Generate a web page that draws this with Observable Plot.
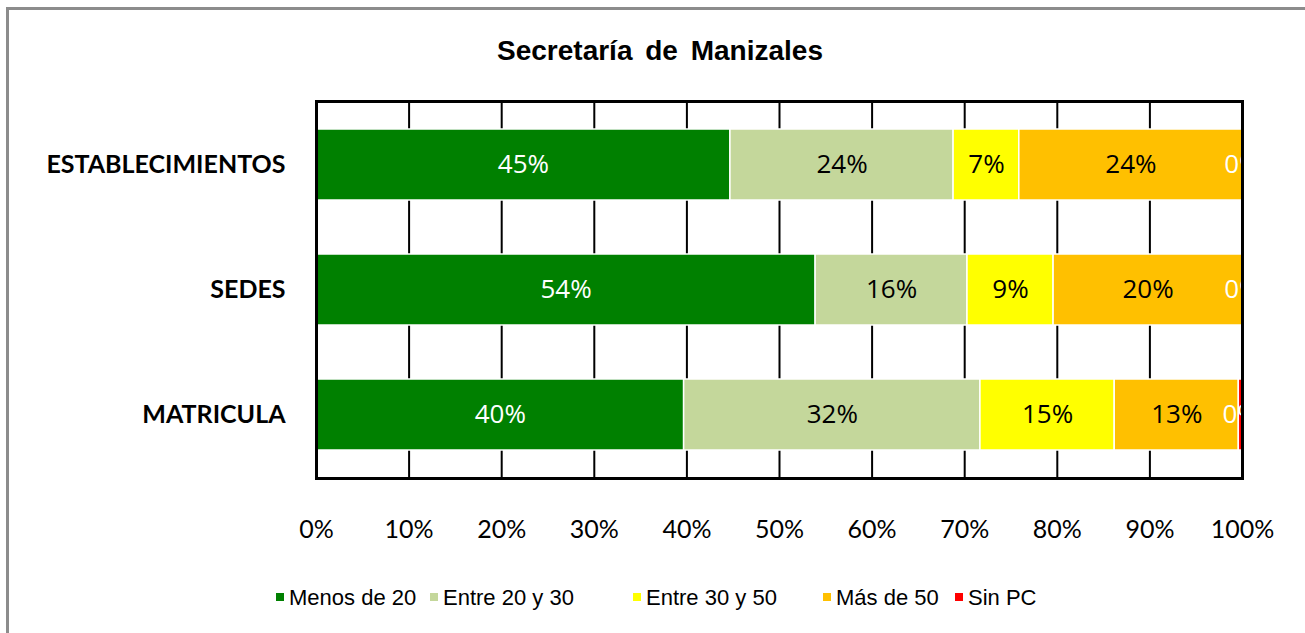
<!DOCTYPE html>
<html>
<head>
<meta charset="utf-8">
<script src="https://cdn.jsdelivr.net/npm/d3@7"></script>
<script src="https://cdn.jsdelivr.net/npm/@observablehq/plot@0.6"></script>
<style>
  body { margin: 0; background: #fff; }
  #wrap { position: relative; width: 1305px; height: 633px; overflow: hidden; background: #fff; }
  #border { position: absolute; left: 6px; top: 7px; width: 1320px; height: 660px; border: 3px solid #8c8c8c; box-sizing: border-box; }
  #title { position: relative; height: 90px; }
  #title span { position: absolute; left: 660px; top: 35px; transform: translateX(-50%); font: bold 28px "Liberation Sans", Arial, sans-serif; word-spacing: 5px; white-space: nowrap; line-height: 32px; color: #000; }
  #chart { position: relative; height: 470px; }
  #legend { position: relative; height: 73px; font: 22px "Liberation Sans", Arial, sans-serif; color: #000; }
  .item { position: absolute; top: 26px; display: flex; align-items: center; white-space: nowrap; line-height: 24px; }
  .sw { width: 8px; height: 8px; margin-right: 5px; margin-top: -3px; }
</style>
</head>
<body>
<div id="wrap">
  <div id="border"></div>
  <div id="title"><span>Secretaría de Manizales</span></div>
  <div id="chart"></div>
  <div id="legend"></div>
</div>
<script>
const categories = ["ESTABLECIMIENTOS", "SEDES", "MATRICULA"];
const series = ["Menos de 20", "Entre 20 y 30", "Entre 30 y 50", "Más de 50", "Sin PC"];
const colors = ["#008000", "#C4D79B", "#FFFF00", "#FFC000", "#FF0000"];
const valuesEstablecimientos = [44.7, 24.1, 7.1, 24.1, 0];
const valuesSedes = [53.9, 16.4, 9.3, 20.4, 0];
const valuesMatricula = [39.7, 32.0, 14.5, 13.4, 0.4];
const xTicks = [0, 10, 20, 30, 40, 50, 60, 70, 80, 90, 100];
const gridTicks = [10, 20, 30, 40, 50, 60, 70, 80, 90];
const whiteLabelSeries = ["Menos de 20", "Sin PC"];

const valueSets = [valuesEstablecimientos, valuesSedes, valuesMatricula];
const data = [];
categories.forEach((c, i) => {
  series.forEach((s, j) => data.push({cat: c, series: s, value: valueSets[i][j]}));
});
const label = d => Math.round(d.value) + "%";

const plot = Plot.plot({
  width: 1305,
  height: 470,
  marginLeft: 316,
  marginRight: 63,
  marginTop: 11,
  marginBottom: 82,
  style: {background: "transparent", overflow: "visible"},
  x: {domain: [0, 100], ticks: xTicks},
  y: {domain: categories, paddingInner: 0.434, paddingOuter: 0.217},
  color: {domain: series, range: colors},
  marks: [
    Plot.ruleX(gridTicks, {stroke: "#000", strokeWidth: 2}),
    Plot.barX(data, Plot.stackX({x: "value", y: "cat", fill: "series", stroke: "#fff", strokeWidth: 1.5})),
    Plot.text(data, Plot.stackX({x: "value", y: "cat", z: "series", text: d => whiteLabelSeries.includes(d.series) ? label(d) : "", fill: "#fff", fontSize: 26, fontFamily: "Open Sans", clip: true})),
    Plot.text(data, Plot.stackX({x: "value", y: "cat", z: "series", text: d => whiteLabelSeries.includes(d.series) ? "" : label(d), fill: "#000", fontSize: 26, fontFamily: "Open Sans", clip: true})),
    Plot.frame({stroke: "#000", strokeWidth: 3}),
    Plot.axisX({ticks: xTicks, tickFormat: d => d + "%", tickSize: 0, tickPadding: 42, fontSize: 25, fontFamily: "Lato", fill: "#000", label: null}),
    Plot.axisY({tickSize: 0, tickPadding: 31, fontSize: 25, fontFamily: "Lato", fontWeight: "bold", fill: "#000", label: null})
  ]
});
document.getElementById("chart").appendChild(plot);

const legend = document.getElementById("legend");
const legendLeft = [276, 430, 633, 823, 955];
series.forEach((s, i) => {
  const it = document.createElement("div");
  it.className = "item";
  it.style.left = legendLeft[i] + "px";
  const sw = document.createElement("span");
  sw.className = "sw";
  sw.style.background = colors[i];
  const t = document.createElement("span");
  t.textContent = s;
  it.appendChild(sw); it.appendChild(t);
  legend.appendChild(it);
});
</script>
</body>
</html>
